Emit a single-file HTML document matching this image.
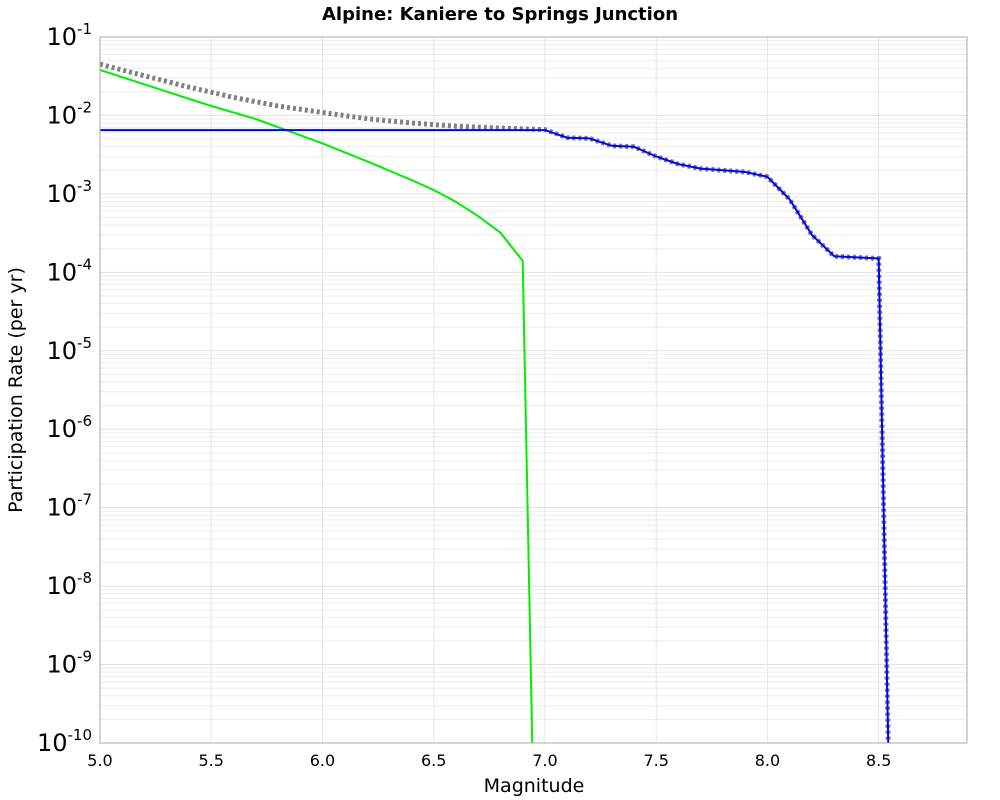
<!DOCTYPE html>
<html><head><meta charset="utf-8"><style>
body{margin:0;background:#fff;}
svg{display:block;font-family:"DejaVu Sans","Liberation Sans",sans-serif;}
</style></head><body>
<svg id="chart" width="1000" height="800">
<rect x="0" y="0" width="1000" height="800" fill="#fff"/>
<text x="500" y="20" text-anchor="middle" font-size="18" font-weight="bold">Alpine: Kaniere to Springs Junction</text>
<text x="534" y="792" text-anchor="middle" font-size="19">Magnitude</text>
<text transform="translate(22,390) rotate(-90)" text-anchor="middle" font-size="19">Participation Rate (per yr)</text>
<g id="grid"></g><g id="series"></g><g id="axes"></g>
</svg>
<script>
const xTicks=[5.0,5.5,6.0,6.5,7.0,7.5,8.0,8.5];
const yExps=[-1,-2,-3,-4,-5,-6,-7,-8,-9,-10];
const blueMags=[5.0,7.0,7.1,7.2,7.3,7.4,7.5,7.6,7.7,7.8,7.9,8.0,8.1,8.2,8.3,8.4,8.5,8.55];
const blueRates=[6.5e-3,6.5e-3,5.2e-3,5.1e-3,4.1e-3,4.0e-3,3.0e-3,2.4e-3,2.1e-3,2.0e-3,1.9e-3,1.65e-3,8.5e-4,3.0e-4,1.6e-4,1.55e-4,1.5e-4,1e-11];
const greenMags=[5.0,5.5,5.7,6.0,6.2,6.4,6.5,6.6,6.7,6.8,6.9,6.95];
const greenRates=[3.8e-2,1.32e-2,9.0e-3,4.4e-3,2.6e-3,1.5e-3,1.12e-3,7.9e-4,5.2e-4,3.2e-4,1.4e-4,1e-11];
const grayMags=[5.0,5.2,5.4,5.6,5.8,6.0,6.2,6.4,6.6,6.8,7.0,7.1,7.2,7.3,7.4,7.5,7.6,7.7,7.8,7.9,8.0,8.1,8.2,8.3,8.4,8.5,8.55];
const grayRates=[4.5e-2,3.2e-2,2.3e-2,1.7e-2,1.32e-2,1.09e-2,9.1e-3,8.0e-3,7.3e-3,6.9e-3,6.6e-3,5.2e-3,5.1e-3,4.1e-3,4.0e-3,3.0e-3,2.4e-3,2.1e-3,2.0e-3,1.9e-3,1.65e-3,8.5e-4,3.0e-4,1.6e-4,1.55e-4,1.5e-4,1e-11];

const L=100,R=967,T=37,B=743,xMin=5.0,xMax=8.897,yMax=-1,yMin=-10;
const NS='http://www.w3.org/2000/svg';
function X(m){return L+(m-xMin)/(xMax-xMin)*(R-L);}
function Y(v){let l=Math.log10(v);return T+(yMax-l)/(yMax-yMin)*(B-T);}
function mk(tag,attrs,parent){const e=document.createElementNS(NS,tag);for(const k in attrs)e.setAttribute(k,attrs[k]);parent.appendChild(e);return e;}
const grid=document.getElementById('grid'),series=document.getElementById('series'),axes=document.getElementById('axes');
mk('rect',{x:L,y:T,width:R-L,height:B-T,fill:'#fff'},grid);
for(let e=-10;e<-1;e++){for(let k=2;k<=9;k++){const y=Y(k*Math.pow(10,e));
 const ln=mk('line',{x1:L,x2:R,y1:y,y2:y,stroke:'#eeeeee','stroke-width':1},grid);
 
 }}
yExps.forEach(e=>{const y=Y(Math.pow(10,e));
 const ln=mk('line',{x1:L,x2:R,y1:y,y2:y,stroke:'#e2e2e2','stroke-width':1},grid);
 
 
 const t=mk('text',{x:L-8,y:y+8,'text-anchor':'end','font-size':24},axes);
 
 
 t.textContent='10';
 const s=mk('tspan',{dy:-11,'font-size':15},t);s.textContent=String(e);});
xTicks.forEach(m=>{const x=X(m);
 const ln=mk('line',{x1:x,x2:x,y1:T,y2:B,stroke:'#e6e6e6','stroke-width':1},grid);
 
 
 const t=mk('text',{x:x,y:766,'text-anchor':'middle','font-size':16},axes);
 
 
 t.textContent=m.toFixed(1);});
const fr=mk('rect',{x:L,y:T,width:R-L,height:B-T,fill:'none',stroke:'#aaaaaa','stroke-width':1},axes);


const cp=mk('clipPath',{id:'cp'},series);mk('rect',{x:L,y:T,width:R-L,height:B-T},cp);
function pts(ms,vs){return ms.map((m,i)=>X(m).toFixed(1)+','+Y(vs[i]).toFixed(1)).join(' ');}
const g1=mk('polyline',{points:pts(grayMags,grayRates),fill:'none',stroke:'#808080','stroke-width':5,'stroke-dasharray':'3,3','clip-path':'url(#cp)'},series);


const g2=mk('polyline',{points:pts(greenMags,greenRates),fill:'none',stroke:'#00ee00','stroke-width':2,'clip-path':'url(#cp)'},series);


const g3=mk('polyline',{points:pts(blueMags,blueRates),fill:'none',stroke:'#0000ff','stroke-width':2,'clip-path':'url(#cp)'},series);


</script>
</body></html>
